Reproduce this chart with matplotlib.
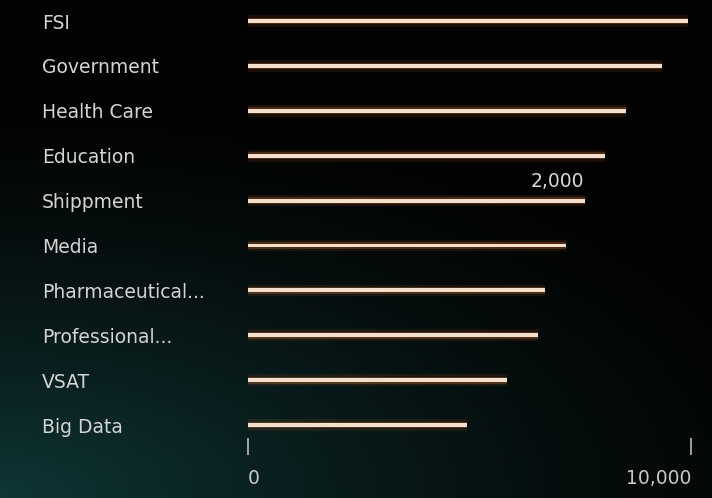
import numpy as np
import matplotlib.pyplot as plt

categories = ["FSI", "Government", "Health Care", "Education", "Shippment",
              "Media", "Pharmaceutical...", "Professional...", "VSAT", "Big Data"]
values = [9930, 9350, 8530, 8060, 7610, 7180, 6700, 6550, 5850, 4940]
tick_vals = [0, 10000]
tick_labels = ["0", "10,000"]
note_val = 7600
note_text = "2,000"

W, H = 712, 498
fig = plt.figure(figsize=(W / 100, H / 100), dpi=100)
fig.patch.set_facecolor("black")

# dark background with teal haze towards the bottom left
bg = fig.add_axes([0, 0, 1, 1], zorder=-1)
yy, xx = np.mgrid[0:1:200j, 0:1:280j]
d = np.clip(1.0 - np.hypot(xx * 0.8, (1 - yy) * 1.2), 0, 1) ** 1.5
img = np.zeros((200, 280, 3))
img[..., 0] = 0.01 + 0.05 * d
img[..., 1] = 0.01 + 0.20 * d
img[..., 2] = 0.01 + 0.20 * d
bg.imshow(img, extent=[0, 1, 0, 1], aspect="auto", origin="upper")
bg.axis("off")

# axes placed so 0 -> x=248px, 10000 -> x=691px
top_px, bot_px = 0, 455
ax = fig.add_axes([248 / W, 1 - bot_px / H, (691 - 248) / W, (bot_px - top_px) / H])
ax.set_facecolor("none")
step = 44.9
y = np.arange(len(categories))
ax.set_xlim(0, 10000)
ax.set_ylim((bot_px - 21) / step, (top_px - 21) / step)

# soft glow + bright core line
ax.barh(y, values, height=0.26, color="#a8501e", alpha=0.14, linewidth=0)
ax.barh(y, values, height=0.15, color="#d07a40", alpha=0.28, linewidth=0)
ax.barh(y, values, height=0.085, color="#f4dfcc", linewidth=0)

for s in ax.spines.values():
    s.set_visible(False)

ax.set_yticks(y)
ax.set_yticklabels(categories, ha="left", color="#d4d4d4", fontsize=13.5)
ax.tick_params(axis="y", length=0, pad=206 * 0.72)

ax.set_xticks(tick_vals)
ax.set_xticklabels(tick_labels, color="#c8c8c8", fontsize=13.5)
ax.tick_params(axis="x", direction="in", length=12, width=1.2, color="#bbbbbb", pad=10)
for lbl, ha in zip(ax.get_xticklabels(), ["left", "right"]):
    lbl.set_ha(ha)

ax.text(note_val - 10, 3.58, note_text, color="#d8d8d8", fontsize=13.5, ha="right", va="center")

fig.savefig("out.png", dpi=100, facecolor="black")
